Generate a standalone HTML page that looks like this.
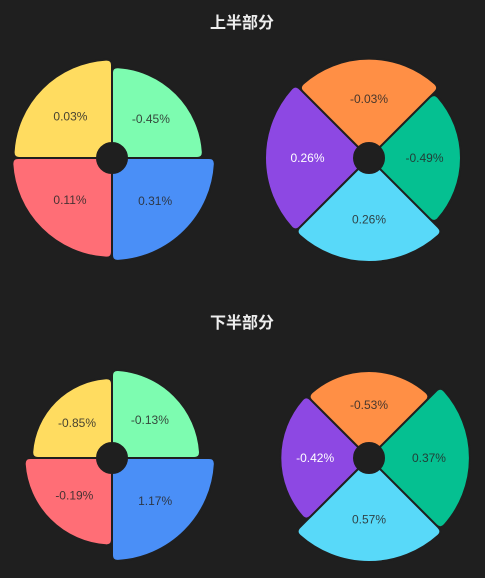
<!DOCTYPE html>
<html><head><meta charset="utf-8"><style>
html,body{margin:0;padding:0;background:#1f1f1f;}
svg{display:block;}
</style></head><body>
<svg id="chart" width="485" height="578">
<text x="242" y="28" text-anchor="middle" fill="#eeeeee" font-size="16" font-weight="bold" font-family="'Liberation Sans','Noto Sans CJK SC',sans-serif">上半部分</text>
<text x="242" y="328" text-anchor="middle" fill="#eeeeee" font-size="16" font-weight="bold" font-family="'Liberation Sans','Noto Sans CJK SC',sans-serif">下半部分</text>
</svg>
<script>
const upperLeftValues = [0.03, -0.45, 0.31, 0.11];
const upperRightValues = [-0.03, -0.49, 0.26, 0.26];
const lowerLeftValues = [-0.85, -0.13, 1.17, -0.19];
const lowerRightValues = [-0.53, 0.37, 0.57, -0.42];
const leftColors = ['#ffdc60', '#7dfcb0', '#4a8ff7', '#ff6e76'];
const rightColors = ['#ff8f45', '#05c091', '#58d9f9', '#8d48e3'];
const leftNames = ['yellow', 'green', 'blue', 'red'];
const rightNames = ['orange', 'green', 'cyan', 'purple'];

const svg = document.getElementById('chart');
const NS = 'http://www.w3.org/2000/svg';
const R0 = 15;

function sectorPath(cx, cy, r, a0, a1) {
  const cr = 6;
  const d = cr / r;
  const p = (rad, a) => [cx + rad * Math.cos(a), cy + rad * Math.sin(a)];
  const i0 = p(R0, a0), i1 = p(R0, a1);
  const s1 = p(r - cr, a0), c1 = p(r, a0), e1 = p(r, a0 + d);
  const s2 = p(r, a1 - d), c2 = p(r, a1), e2 = p(r - cr, a1);
  return `M${i0} L${s1} Q${c1} ${e1} A${r} ${r} 0 0 1 ${s2} Q${c2} ${e2} L${i1} A${R0} ${R0} 0 0 0 ${i0}Z`;
}

function drawRose(cx, cy, values, colors, names, startDeg, rLo, rHi, chartName) {
  const vmin = Math.min(...values), vmax = Math.max(...values);
  const rScale = v => rLo + (rHi - rLo) * (v - vmin) / (vmax - vmin || 1);
  values.forEach((v, i) => {
    const a0 = (startDeg + i * 90) * Math.PI / 180;
    const a1 = a0 + Math.PI / 2;
    const r = rScale(v);
    const path = document.createElementNS(NS, 'path');
    path.setAttribute('d', sectorPath(cx, cy, r, a0, a1));
    path.setAttribute('fill', colors[i]);
    path.setAttribute('stroke', '#1f1f1f');
    path.setAttribute('stroke-width', '2');
    
    
    svg.appendChild(path);
    const am = (a0 + a1) / 2;
    const lr = (R0 + r) / 2 + 2;
    const t = document.createElementNS(NS, 'text');
    t.setAttribute('x', cx + lr * Math.cos(am));
    t.setAttribute('y', cy + lr * Math.sin(am) + 4);
    t.setAttribute('text-anchor', 'middle');
    t.setAttribute('font-size', '12');
    t.setAttribute('font-family', "'Liberation Sans',sans-serif");
    t.setAttribute('fill', names[i] === 'purple' ? '#ffffff' : 'rgba(40,40,40,0.85)');
    t.textContent = v.toFixed(2) + '%';
    
    
    svg.appendChild(t);
  });
}

drawRose(112, 158, upperLeftValues, leftColors, leftNames, 180, 91, 103, 'upper-left');
drawRose(369, 158, upperRightValues, rightColors, rightNames, 225, 92, 104, 'upper-right');
drawRose(112, 458, lowerLeftValues, leftColors, leftNames, 180, 80, 103, 'lower-left');
drawRose(369, 458, lowerRightValues, rightColors, rightNames, 225, 87, 104, 'lower-right');
</script>
</body></html>
